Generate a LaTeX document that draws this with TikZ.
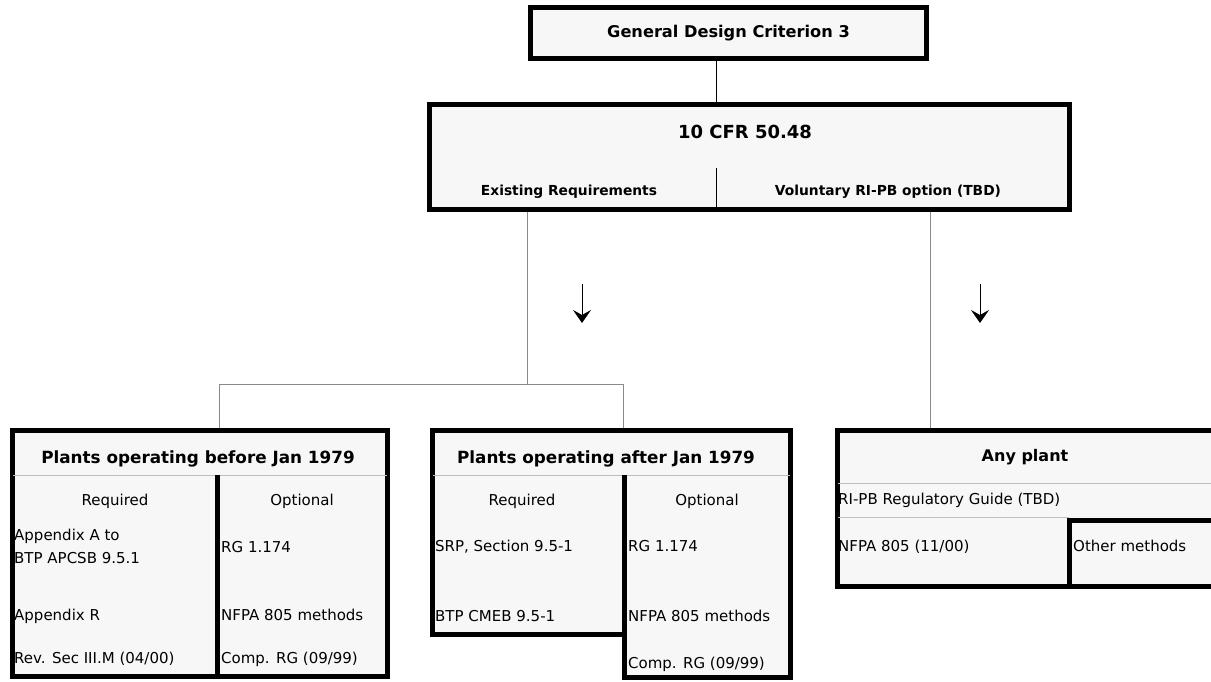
\documentclass[tikz,border=0pt]{standalone}
\usepackage{fontspec}
\setmainfont{DejaVu Sans}
\usepackage{tikz}
\usetikzlibrary{arrows.meta, positioning}
\definecolor{boxfill}{HTML}{F7F7F7}
\definecolor{rulegray}{HTML}{BEBEBE}
\definecolor{linkgray}{HTML}{8A8A8A}

\begin{document}
\begin{tikzpicture}
  [x=1pt, y=-1pt,
   every node/.style={inner sep=0pt, font=\fontsize{15}{18}\selectfont},
   frame/.style={draw, line width=5pt, fill=boxfill},
   head/.style={font=\fontsize{16.8}{20}\selectfont\bfseries},
   subhead/.style={font=\fontsize{13.8}{16}\selectfont\bfseries},
   colhead/.style={anchor=mid},
   cell/.style={anchor=mid west, align=left},
   rowrule/.style={draw=rulegray, line width=1pt},
   divider/.style={line width=5pt},
   link/.style={draw=linkgray, line width=1pt},
   pointer/.style={draw, line width=1pt, -{Stealth[length=13pt, width=18pt, inset=5pt]}}]

  \useasboundingbox (0,0) rectangle (1211,682);

  % connectors
  \coordinate (exist) at (527,209);
  \coordinate (ripb) at (930,209);
  \coordinate (fork) at (527,384);
  \coordinate (preIn) at (219,430);
  \coordinate (postIn) at (623,430);
  \coordinate (anyIn) at (930,430);
  \draw[link] (exist) -- (fork);
  \draw[link] (fork) -| (preIn);
  \draw[link] (fork) -| (postIn);
  \draw[link] (ripb) -- (anyIn);

  \coordinate (arrL) at (582,284);
  \coordinate (arrR) at (980,284);
  \draw[pointer] (arrL) -- ++(0,39);
  \draw[pointer] (arrR) -- ++(0,39);

  % Root
  \node[frame, head, font=\fontsize{16.2}{20}\selectfont\bfseries, minimum width=396, minimum height=51] (gdc) at (728.5,33) {General Design Criterion 3};
  \node[frame, minimum width=640, minimum height=105] (cfr) at (749.5,157) {};
  \draw[line width=1pt] (716,58) -- (716,105);
  \draw[line width=1pt] (716,168) -- (716,209);
  \node[head, font=\fontsize{18}{21}\selectfont\bfseries, colhead] (cfrTitle) at (745,136) {10 CFR 50.48};
  \node[subhead, colhead] (cfrOld) at (569,193) {Existing Requirements};
  \node[subhead, colhead] (cfrNew) at (888,193) {Voluntary RI-PB option (TBD)};

  % before Jan 1979
  \node[frame, minimum width=375, minimum height=246] (pre) at (200,553.5) {};
  \draw[rowrule] (13,475) -- (387,475);
  \draw[divider] (217,475) -- (217,677);
  \node[head, colhead] (preTitle) at (198,461) {Plants operating before Jan 1979};
  \node[colhead] (preReq) at (115,503) {Required};
  \node[colhead] (preOpt) at (302,503) {Optional};
  \node[cell, font=\fontsize{15}{23}\selectfont] (preA) at (14,561) {Appendix A to\\BTP APCSB 9.5.1};
  \node[cell] (preB) at (14,618) {Appendix R};
  \node[cell] (preC) at (14,661) {Rev. Sec III.M (04/00)};
  \node[cell] (preD) at (221,550) {RG 1.174};
  \node[cell] (preE) at (221,618) {NFPA 805 methods};
  \node[cell] (preF) at (221,661) {Comp. RG (09/99)};

  % after Jan 1979
  \filldraw[frame] (432.5,430.5) -- (790.5,430.5) -- (790.5,677.5) -- (624,677.5)
    -- (624,634.5) -- (432.5,634.5) -- cycle;
  \draw[rowrule] (433,475) -- (790,475);
  \draw[divider] (624,475) -- (624,677.5);
  \node[head, colhead] (postTitle) at (606,461) {Plants operating after Jan 1979};
  \node[colhead] (postReq) at (522,503) {Required};
  \node[colhead] (postOpt) at (707,503) {Optional};
  \node[cell] (postA) at (435,549) {SRP, Section 9.5-1};
  \node[cell] (postB) at (435,619) {BTP CMEB 9.5-1};
  \node[cell] (postC) at (628,549) {RG 1.174};
  \node[cell] (postD) at (628,619) {NFPA 805 methods};
  \node[cell] (postE) at (628,666) {Comp. RG (09/99)};

  % any plant
  \node[frame, minimum width=380, minimum height=156] (any) at (1027.5,508.5) {};
  \draw[rowrule] (838,483) -- (1211,483);
  \draw[rowrule] (838,517) -- (1069,517);
  \draw[divider] (1069,586.5) -- (1069,520) -- (1217.5,520);
  \node[head, font=\fontsize{16}{20}\selectfont\bfseries, colhead] (anyTitle) at (1025,459) {Any plant};
  \node[cell] (anyA) at (838,502) {RI-PB Regulatory Guide (TBD)};
  \node[cell] (anyB) at (838,549) {NFPA 805 (11/00)};
  \node[cell] (anyC) at (1073,549) {Other methods};
\end{tikzpicture}
\end{document}
